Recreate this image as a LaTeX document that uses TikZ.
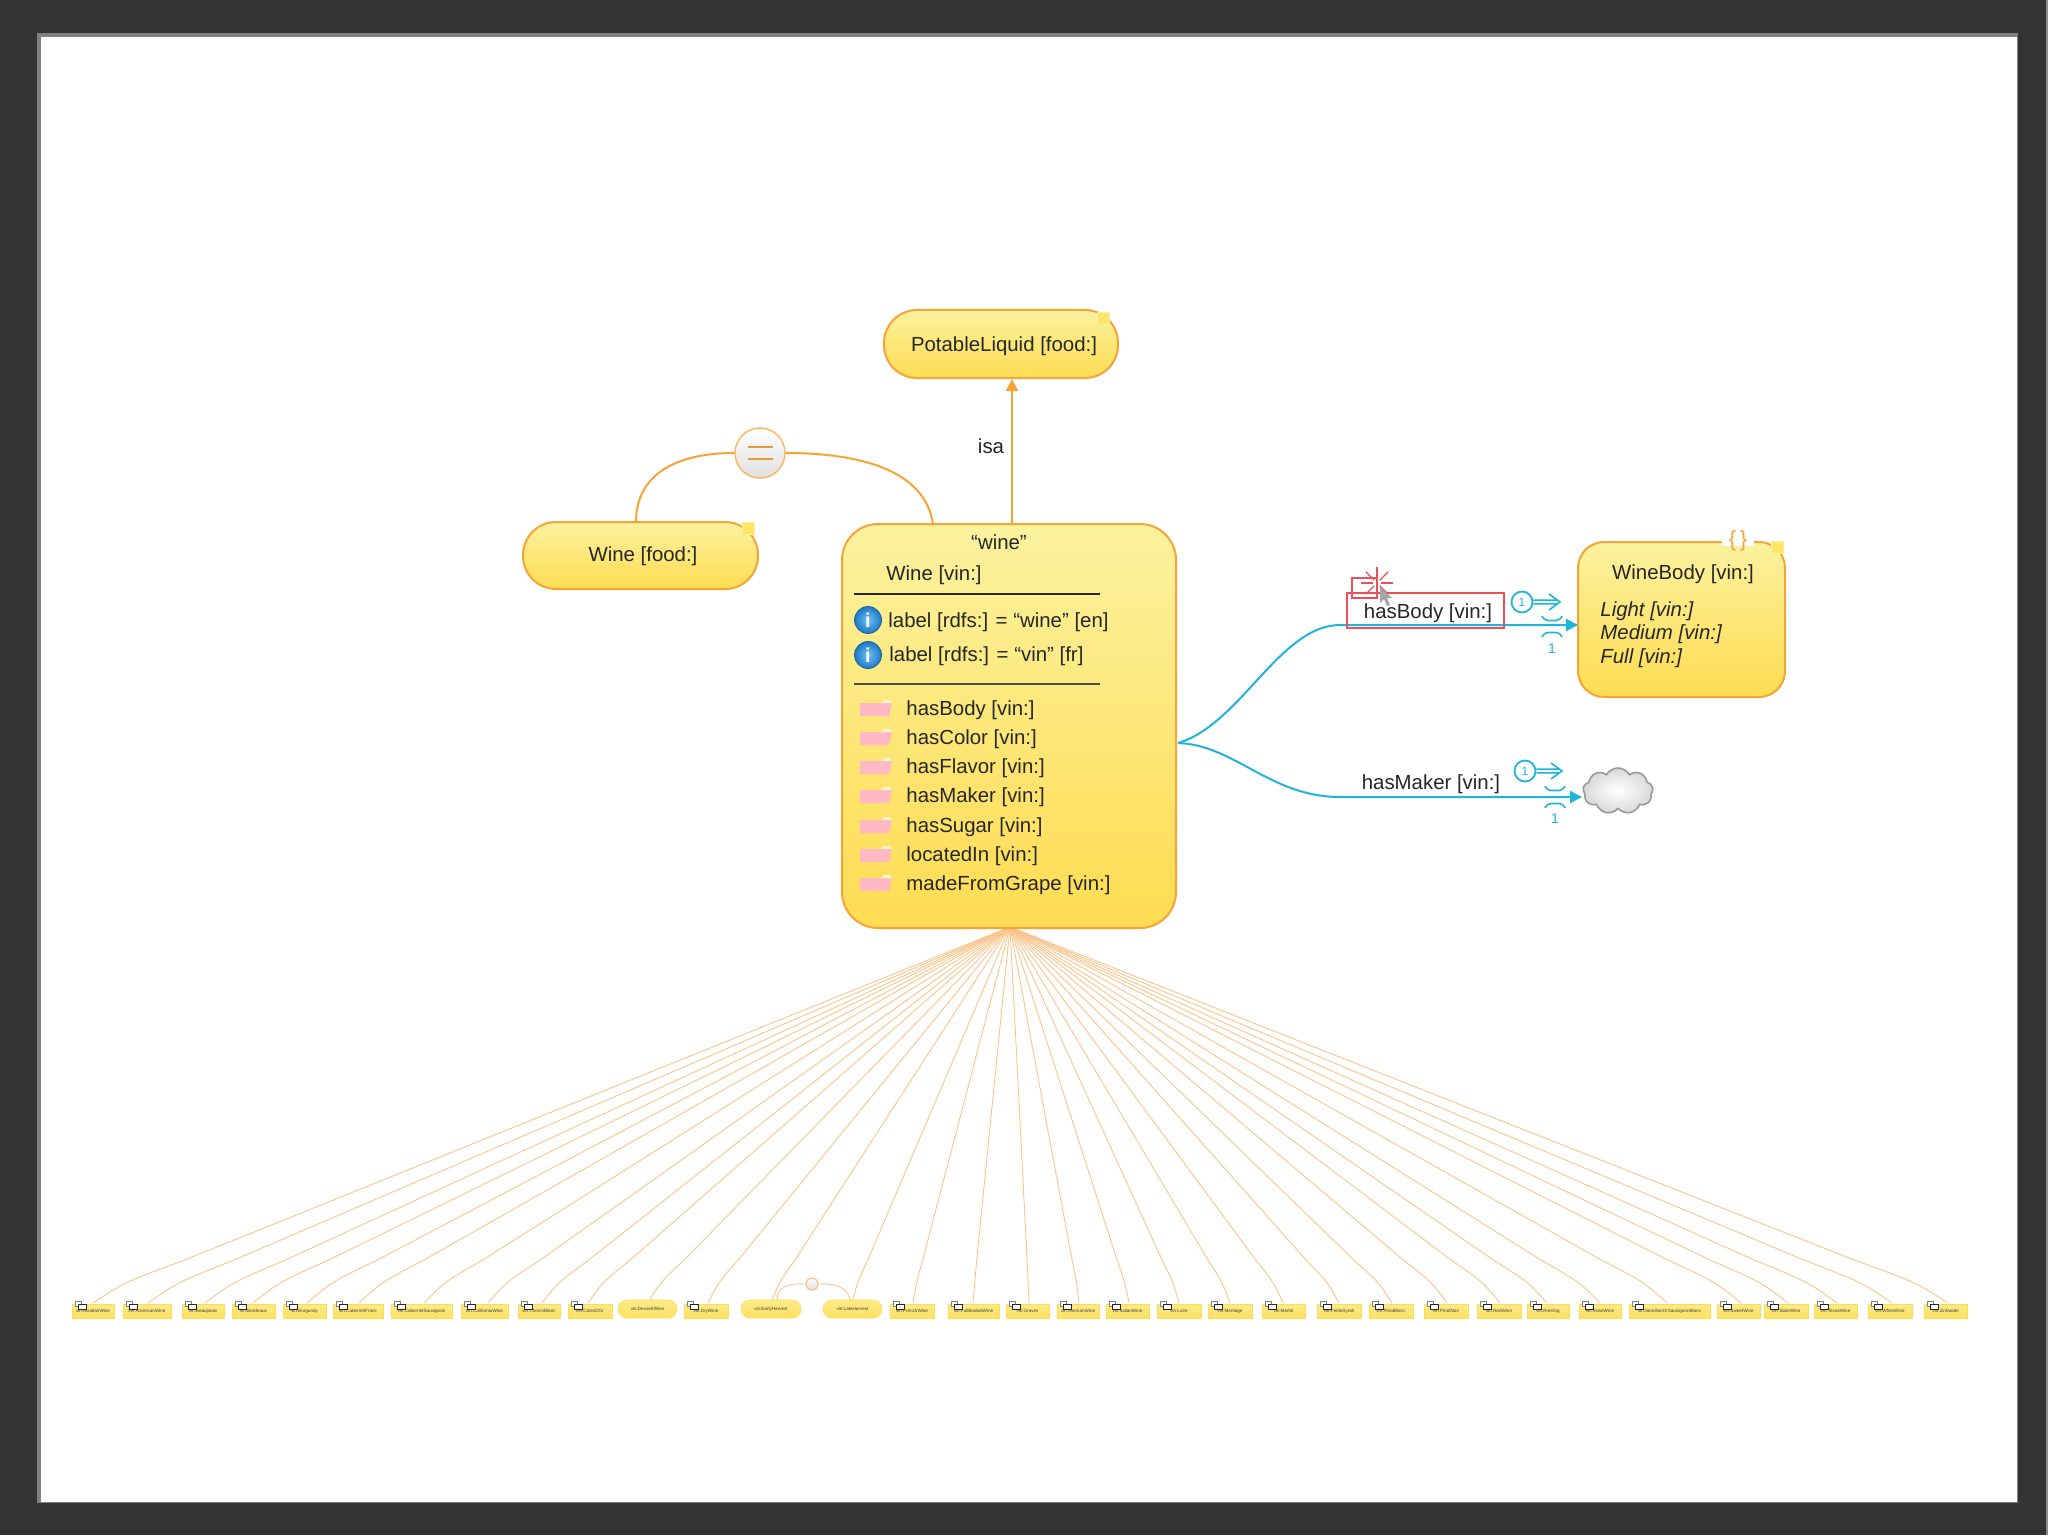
\documentclass[tikz,border=0pt]{standalone}
\usepackage{fontspec}
\setmainfont{Liberation Sans}
\usetikzlibrary{arrows.meta,shapes.symbols}
\definecolor{frameC}{HTML}{333333}
\definecolor{edgeO}{HTML}{F7A436}
\definecolor{fineO}{HTML}{FAC58C}
\definecolor{linkB}{HTML}{1FB5DA}
\definecolor{yelTop}{HTML}{FBF29F}
\definecolor{yelMid}{HTML}{FCEB88}
\definecolor{yelBot}{HTML}{FFDC52}
\definecolor{tagY}{HTML}{FFE566}
\definecolor{redR}{HTML}{E8505B}
\definecolor{pinkF}{HTML}{FFB9C4}
\definecolor{infoA}{HTML}{6CC4F0}
\definecolor{infoB}{HTML}{1F78C8}
\tikzset{
  lab/.style={font=\fontsize{10.2}{12}\selectfont,inner sep=0pt,text=black!85,yshift=-.7pt},
  classpill/.style={draw=edgeO,line width=1pt,top color=yelTop,middle color=yelMid,bottom color=yelBot,rounded corners=16.5pt,inner sep=0pt},
  classbox/.style={draw=edgeO,line width=1pt,top color=yelTop,middle color=yelMid,bottom color=yelBot,inner sep=0pt},
  tagbox/.style={fill=tagY,draw=yelTop,line width=.3pt,inner sep=0pt,minimum size=6pt},
  tinyrect/.style={top color=yelMid,bottom color=yelBot!70!yelMid,draw=yelBot,line width=.3pt,inner sep=0pt,minimum height=7pt,font=\fontsize{2.3}{3}\selectfont,text=black!75},
  tinypill/.style={top color=yelMid,bottom color=yelBot!70!yelMid,draw=yelBot,line width=.3pt,inner sep=0pt,minimum height=9pt,rounded corners=4.4pt,font=\fontsize{2.3}{3}\selectfont,text=black!75},
  fine/.style={draw=fineO,line width=.45pt,line join=round},
  isaarrow/.style={draw=edgeO,line width=1pt,-{Triangle[length=6pt,width=6pt]}},
  bluelink/.style={draw=linkB,line width=1pt,-{Triangle[length=6pt,width=6pt]}},
  bluemark/.style={draw=linkB,line width=.8pt},
  bluenum/.style={font=\fontsize{7}{8}\selectfont,text=linkB,inner sep=0pt},
  keycircle/.style={circle,draw=linkB,line width=.9pt,minimum size=10.5pt,inner sep=0pt,font=\fontsize{6}{7}\selectfont,text=linkB},
  infoicon/.style={circle,inner color=infoA,outer color=infoB,draw=infoB!80!black,line width=.4pt,minimum size=13.5pt,inner sep=0pt,text=white,font=\bfseries\fontsize{10}{10}\selectfont},
  eqoval/.style={circle,draw=edgeO!80,line width=.7pt,top color=white,bottom color=black!12,inner sep=0pt},
}
\begin{document}
\begin{tikzpicture}[x=0.5pt,y=-0.5pt]
\useasboundingbox (0,0) rectangle (2048,1535);
\fill[frameC] (0,0) rectangle (2048,1535);
\fill[black!45] (2046,0) rectangle (2048,1535);
\fill[black!50] (37,33) rectangle (2018,1503);
\fill[white] (41,37) rectangle (2017,1502);

% fine subclass edges
\coordinate (apex) at (1010,927);
\foreach \i/\tx in {1/93,2/148,3/205,4/253,5/307,6/359,7/424,8/488,9/542,10/588,11/648,12/708,13/771,14/852,15/913,16/973,17/1029,18/1079,19/1129,20/1179,21/1230,22/1283,23/1339,24/1392,25/1447,26/1500,27/1547,28/1600,29/1667,30/1741,31/1788,32/1837,33/1892,34/1948}{
  \coordinate (e\i) at (\tx,1303);
  \pgfmathsetmacro{\px}{\tx+0.10*(1010-\tx)}
  \pgfmathsetmacro{\qx}{\tx+0.035*(1010-\tx)}
  \draw[fine] (apex) -- (\px,1260) .. controls (\qx,1282) .. (e\i);
}

% tiny class boxes
\foreach \i/\l/\r/\t in {1/72/114/vin:AlsatianWine,2/123/171/vin:AmericanWine,3/182/224/vin:Beaujolais,4/232/275/vin:Bordeaux,5/283/326/vin:Burgundy,6/333/383/vin:CabernetFranc,7/391/452/vin:CabernetSauvignon,8/461/508/vin:CaliforniaWine,9/518/560/vin:CheninBlanc,10/568/612/vin:CotesDOr,12/684/728/vin:DryWine,15/890/934/vin:FrenchWine,16/948/999/vin:FullBodiedWine,17/1006/1049/vin:Graves,18/1057/1099/vin:GermanWine,19/1106/1149/vin:ItalianWine,20/1157/1201/vin:Loire,21/1208/1252/vin:Meritage,22/1262/1305/vin:Merlot,23/1317/1361/vin:PetiteSyrah,24/1369/1413/vin:PinotBlanc,25/1424/1468/vin:PinotNoir,26/1477/1521/vin:RedWine,27/1527/1569/vin:Riesling,28/1579/1621/vin:RoseWine,29/1629/1710/vin:SemillonOrSauvignonBlanc,30/1717/1760/vin:SweetWine,31/1764/1808/vin:TableWine,32/1814/1857/vin:TexasWine,33/1868/1912/vin:WhiteWine,34/1924/1967/vin:Zinfandel}{
  \pgfmathsetmacro{\w}{(\r-\l)/2}
  \pgfmathsetmacro{\cx}{(\l+\r)/2}
  \node[tinyrect,minimum width=\w pt] (n\i) at (\cx,1311) {\raisebox{-.5pt}{\t}};
  \pgfmathsetmacro{\ia}{\l+3}\pgfmathsetmacro{\ib}{\l+9}
  \pgfmathsetmacro{\ic}{\l+6}\pgfmathsetmacro{\id}{\l+14}
  \fill[white,draw=black!50,line width=.25pt] (\ia,1301.5) rectangle (\ib,1306);
  \fill[white,draw=black!85,line width=.45pt] (\ic,1304.5) rectangle (\id,1309);
}
\foreach \i/\l/\r/\t in {11/618/677/vin:DessertWine,13/741/801/vin:EarlyHarvest,14/823/882/vin:LateHarvest}{
  \pgfmathsetmacro{\w}{(\r-\l)/2}
  \pgfmathsetmacro{\cx}{(\l+\r)/2}
  \node[tinypill,minimum width=\w pt] (n\i) at (\cx,1309) {\t};
}
\node[eqoval,minimum size=6pt,draw=fineO] (eqs) at (812,1284) {};
\draw[fine] (eqs.west) .. controls (788,1283) and (777,1287) .. (777,1300);
\draw[fine] (eqs.east) .. controls (836,1283) and (848,1288) .. (850,1300);

% main classes
\node[classpill,minimum width=117pt,minimum height=34pt] (potable) at (1001,344) {};
\node[lab] (potablet) at (1004,345) {PotableLiquid [food:]};
\node[tagbox] (potag) at (1103,318) {};
\node[classpill,minimum width=117.5pt,minimum height=33.5pt] (winef) at (640.5,555.5) {};
\node[lab] (wineft) at (643,555) {Wine [food:]};
\node[tagbox] (winetag) at (748,528) {};
\node[classbox,rounded corners=18pt,minimum width=167pt,minimum height=202pt] (main) at (1009,726) {};
\node[classbox,rounded corners=13pt,minimum width=103.5pt,minimum height=77.5pt] (body) at (1681.5,619.5) {};
\node[tagbox] (bodytag) at (1777,547) {};
\node[fill=white,inner sep=0pt,minimum width=16pt,minimum height=4pt] (bracegap) at (1738,542) {};
\node[font=\fontsize{11}{12}\selectfont,text=edgeO,inner sep=0pt] (brace) at (1738,541) {\{\,\}};

% text of the main class
\node[lab] (tw) at (999,541) {“wine”};
\node[lab] (tv) at (934,574) {Wine [vin:]};
\draw[black!85,line width=1pt] (854,594) -- (1100,594);
\draw[black!70,line width=1pt] (854,684) -- (1100,684);
\node[infoicon] (i1) at (868,620) {i};
\node[lab,anchor=west] (l1) at (888,621) {label [rdfs:] = “wine” [en]};
\node[infoicon] (i2) at (868,655) {i};
\node[lab,anchor=west] (l2) at (889,655) {label [rdfs:] = “vin” [fr]};
\foreach \y/\n/\t in {709/a/hasBody [vin:],738/b/hasColor [vin:],767/c/hasFlavor [vin:],796/d/hasMaker [vin:],826/e/hasSugar [vin:],855/f/locatedIn [vin:],884/g/madeFromGrape [vin:]}{
  \node[lab,anchor=west] (p\n) at (906,\y) {\t};
  \fill[pinkF] (860,\y-6) -- (881,\y-6) -- (884,\y-9) -- (890,\y-9) -- (892,\y-6) -- (889,\y+7) -- (860,\y+7) -- cycle;
  \fill[yelTop!60!white] (881,\y-6) -- (884,\y-9) -- (890,\y-9) -- (892,\y-6) -- cycle;
}

% equivalence between the two wines
\node[eqoval,minimum size=25pt] (eq) at (760,453) {};
\draw[edgeO!70!brown,line width=1.1pt] (748,447) -- (773,447) (748,459) -- (773,459);
\draw[edgeO,line width=1pt] (eq.west) .. controls (675,453) and (636,475) .. (636,522);
\draw[edgeO,line width=1pt] (eq.east) .. controls (860,453) and (925,470) .. (933,524);

% isa
\draw[isaarrow] (1012,524) -- (potable.south -| 1012,378);
\node[lab] (isa) at (991,445) {isa};

% blue property links
\coordinate (bstart) at (1178,743);
\coordinate (bodyin) at (1578,625);
\node[cloud,cloud puffs=9,cloud puff arc=120,aspect=1.5,draw=black!40,line width=.8pt,inner color=white,outer color=black!15,minimum width=35pt,minimum height=23pt,inner sep=0pt] (cloudn) at (1618,791) {};
\coordinate (cloudin) at (1582,797);
\draw[bluelink] (bstart) .. controls (1240,725) and (1280,625) .. (1340,625) -- (bodyin);
\draw[bluelink] (bstart) .. controls (1235,745) and (1270,797) .. (1340,797) -- (cloudin);

% selection rectangles
\draw[redR,line width=1pt] (1347,593) rectangle (1504,628);
\draw[redR,line width=1pt] (1352,578) rectangle (1377,598);
\foreach \a in {0,45,...,315}{
  \draw[redR,line width=.6pt] (1377,583) ++(\a:4) -- ++(\a:12);
}
\fill[black!35] (1380,587) -- (1380,603) -- (1384,599) -- (1387,606) -- (1390,605) -- (1387,598) -- (1392,598) -- cycle;
\node[lab] (hb) at (1428,612) {hasBody [vin:]};
\node[lab] (hm) at (1431,783) {hasMaker [vin:]};

% keys and cardinalities
\node[keycircle] (k1) at (1522,602) {1};
\draw[bluemark] (k1.east) ++(0,-1.8) -- (1557,600.2) (k1.east) ++(0,1.8) -- (1557,603.8) (1549,594) -- (1560,602) -- (1549,610);
\node[keycircle] (k2) at (1525,771) {1};
\draw[bluemark] (k2.east) ++(0,-1.8) -- (1559,769.2) (k2.east) ++(0,1.8) -- (1559,772.8) (1551,763) -- (1562,771) -- (1551,779);
\draw[bluemark,rounded corners=2pt] (1542,616) -- (1544,620.5) -- (1560,620.5) -- (1562,616);
\draw[bluemark,rounded corners=2pt] (1542,637) -- (1544,632.5) -- (1560,632.5) -- (1562,637);
\draw[bluemark,rounded corners=2pt] (1545,786) -- (1547,790.5) -- (1563,790.5) -- (1565,786);
\draw[bluemark,rounded corners=2pt] (1545,808) -- (1547,803.5) -- (1563,803.5) -- (1565,808);
\node[bluenum] (c1) at (1552,649) {1};
\node[bluenum] (c2) at (1555,819) {1};

% WineBody
\node[lab] (wb) at (1683,573) {WineBody [vin:]};
\foreach \y/\n/\t in {610/a/Light [vin:],633/b/Medium [vin:],657/c/Full [vin:]}{
  \node[lab,anchor=west,font=\itshape\fontsize{10.2}{12}\selectfont] (v\n) at (1600,\y) {\t};
}
\end{tikzpicture}
\end{document}
